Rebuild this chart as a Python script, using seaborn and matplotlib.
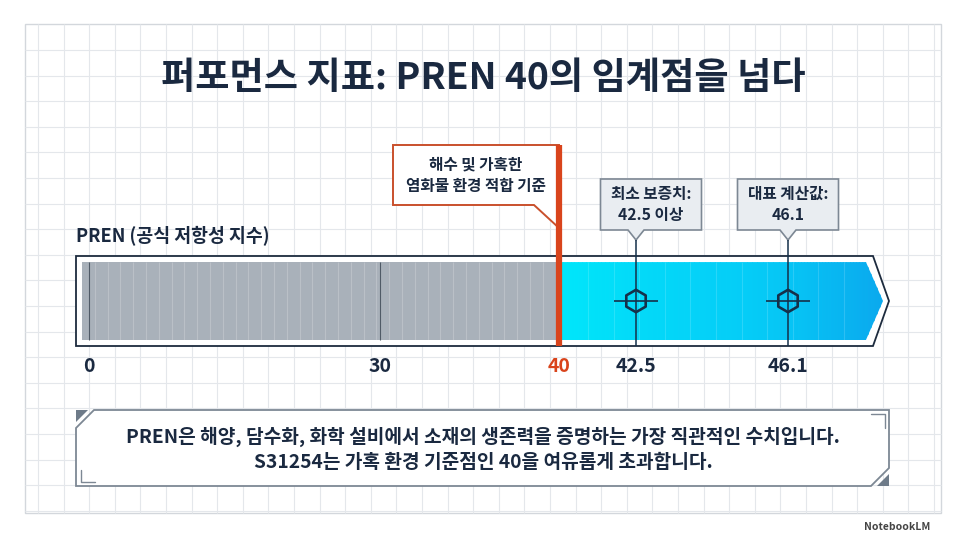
import numpy as np
import matplotlib
matplotlib.use("Agg")
import matplotlib.pyplot as plt
import seaborn as sns
from matplotlib.patches import Polygon, Rectangle
from matplotlib.colors import LinearSegmentedColormap

# ---------------- data ----------------
title = "퍼포먼스 지표: PREN 40의 임계점을 넘다"
axis_title = "PREN (공식 저항성 지수)"
tick_values = [0, 30, 40, 42.5, 46.1]
tick_labels = ["0", "30", "40", "42.5", "46.1"]
zone_names = ["일반 스테인리스 영역", "S31254"]
zone_start = [0, 40]
zone_end = [40, 50]
threshold = 40
threshold_note = "해수 및 가혹한\n염화물 환경 적합 기준"
marker_values = [42.5, 46.1]
marker_notes = ["최소 보증치:\n42.5 이상", "대표 계산값:\n46.1"]
summary_lines = [
    "PREN은 해양, 담수화, 화학 설비에서 소재의 생존력을 증명하는 가장 직관적인 수치입니다.",
    "S31254는 가혹 환경 기준점인 40을 여유롭게 초과합니다.",
]

# ---------------- schematic (piecewise) scale ----------------
scale_breaks = [0, 30, 40, 42.5, 46.1, 50]
scale_px = [89, 380, 559, 636, 788, 883]
_ext_v = np.array([-100.0] + scale_breaks + [200.0])
_ext_p = np.array([89 - 100 * 9.7] + scale_px + [883 + 150 * 24.4])


def fwd(v):
    return np.interp(np.asarray(v, dtype=float), _ext_v, _ext_p)


def inv(p):
    return np.interp(np.asarray(p, dtype=float), _ext_p, _ext_v)


# ---------------- style ----------------
sns.set_theme(style="white")
plt.rcParams["font.family"] = ["Noto Sans CJK KR", "DejaVu Sans"]
NAVY = "#1a2940"
MARK = "#15304a"
RED = "#d9441c"
GRAYBOX = "#7d8894"

W, H = 966, 539
fig = plt.figure(figsize=(9.66, 5.39), dpi=100)
fig.patch.set_facecolor("white")

deco = fig.add_axes([0, 0, 1, 1])
deco.set_xlim(0, W)
deco.set_ylim(H, 0)
deco.axis("off")

ax = fig.add_axes([0, 0, 1, 1])
ax.set_xscale("function", functions=(fwd, inv))
ax.set_xlim(float(inv(0)), float(inv(W)))
ax.set_ylim(H, 0)
ax.axis("off")
ax.patch.set_visible(False)

# panel + grid
deco.add_patch(Rectangle((25, 24), 916, 489, fc="white", ec="#d3d7dc", lw=1, zorder=0))
gx = np.arange(38, 941, 25.6)
gy = np.arange(50, 513, 25.6)
deco.vlines(gx, 24, 513, color="#e4e7eb", lw=0.8, zorder=0.5)
deco.hlines(gy, 25, 941, color="#e4e7eb", lw=0.8, zorder=0.5)

# title
deco.text(483, 78, title, ha="center", va="center", fontsize=26.8,
          weight="bold", color=NAVY)
deco.text(76, 236, axis_title, ha="left", va="center", fontsize=13.2,
          weight="bold", color=NAVY)

# bar frame
deco.add_patch(Polygon([(76, 256), (873, 256), (889, 301), (873, 346), (76, 346)],
                       closed=True, fc="white", ec="#1d2b3e", lw=1.3, zorder=1))

# gray zone
pad = 0.7
ax.barh(301, zone_end[0] - zone_start[0] + pad, left=zone_start[0] - pad,
        height=78, color="#a9b1ba", lw=0, zorder=2)

# cyan zone (gradient, arrow shaped)
tip_len = 0.7
cmap = LinearSegmentedColormap.from_list("cy", ["#00e6fa", "#05cdf7", "#0aa9ee"])
nseg = 80
edges = np.linspace(zone_start[1], zone_end[1], nseg + 1)
cols = cmap(np.linspace(0, 1, nseg))
bars = ax.barh([301] * nseg, np.diff(edges), left=edges[:-1], height=78,
               color=cols, edgecolor=cols, lw=0.6, zorder=2)
clip = Polygon([(zone_start[1], 262), (zone_end[1] - tip_len, 262), (zone_end[1], 301),
                (zone_end[1] - tip_len, 340), (zone_start[1], 340)],
               closed=True, transform=ax.transData)
for b in bars:
    b.set_clip_path(clip)

# texture lines
tex_gray = np.arange(82 + 12.8, 552, 12.8)
ax.vlines(tex_gray, 262, 340, transform=deco.transData, colors="white",
          alpha=0.2, lw=0.8, zorder=3)
tex_cyan = np.arange(588, 862, 25.6)
ax.vlines(tex_cyan, 262, 340, transform=deco.transData, colors="white",
          alpha=0.15, lw=0.8, zorder=3)
ax.vlines([0, 30], 262, 340, color="#4f5a66", lw=0.8, zorder=3)

deco.text(275, 301, zone_names[0], ha="center", va="center", fontsize=11.2,
          weight="bold", color="#26364c", zorder=5)

# threshold callout + line
tx = float(fwd(threshold))
deco.add_patch(Polygon([(393, 145), (tx, 145), (tx, 228), (tx - 25, 205), (393, 205)],
                       closed=True, fc="white", ec="#c9502c", lw=1.4, zorder=4))
deco.text((393 + tx) / 2, 175, threshold_note, ha="center", va="center",
          fontsize=11.3, weight="bold", color=NAVY, linespacing=1.45, zorder=5)
ax.vlines(threshold, 145, 346, color=RED, lw=4.5, zorder=5)

# marker callouts
box_dx = [15, 0]
for v, note, dx in zip(marker_values, marker_notes, box_dx):
    px = float(fwd(v))
    cx = px + dx
    L, R = cx - 50.5, cx + 50.5
    deco.add_patch(Polygon([(L, 179), (R, 179), (R, 230), (px + 8, 230), (px, 240),
                            (px - 8, 230), (L, 230)],
                           closed=True, fc="#e9edf1", ec=GRAYBOX, lw=1.2, zorder=4))
    deco.text(cx, 204.5, note, ha="center", va="center", fontsize=11.3,
              weight="bold", color=NAVY, linespacing=1.35, zorder=5)

ax.vlines(marker_values, 240, 346, color=MARK, lw=1.1, zorder=4)
sns.scatterplot(x=marker_values, y=[301] * len(marker_values), marker="h", s=260,
                facecolor="none", edgecolor=MARK, linewidth=1.9, ax=ax,
                zorder=6, legend=False)
ax.plot(marker_values, [301] * len(marker_values), ls="none", marker="_",
        markersize=32, mew=1.2, color=MARK, zorder=6)

# tick labels
for v, lab in zip(tick_values, tick_labels):
    ax.text(v, 366, lab, ha="center", va="center", fontsize=14, weight="bold",
            color=(RED if v == threshold else NAVY), zorder=5)

# summary box
deco.add_patch(Polygon([(94, 410), (889, 410), (889, 468), (871, 486), (76, 486), (76, 428)],
                       closed=True, fc="white", ec=GRAYBOX, lw=1.3, zorder=2))
deco.add_patch(Polygon([(76, 410), (88, 410), (76, 422)], closed=True,
                       fc="#6e7b89", lw=0, zorder=2))
deco.add_patch(Polygon([(889, 474), (889, 486), (877, 486)], closed=True,
                       fc="#6e7b89", lw=0, zorder=2))
deco.plot([81, 81, 95], [470, 482, 482], color=GRAYBOX, lw=1, zorder=3)
deco.plot([871, 885, 885], [414, 414, 428], color=GRAYBOX, lw=1, zorder=3)
deco.text(483, 437, summary_lines[0], ha="center", va="center", fontsize=13.8,
          weight="bold", color=NAVY, zorder=4)
deco.text(483, 463, summary_lines[1], ha="center", va="center", fontsize=13.8,
          weight="bold", color=NAVY, zorder=4)

deco.text(930, 527, "NotebookLM", ha="right", va="center", fontsize=7.5,
          weight="bold", color="#444444")

fig.savefig("out.png", dpi=100, facecolor="white")
